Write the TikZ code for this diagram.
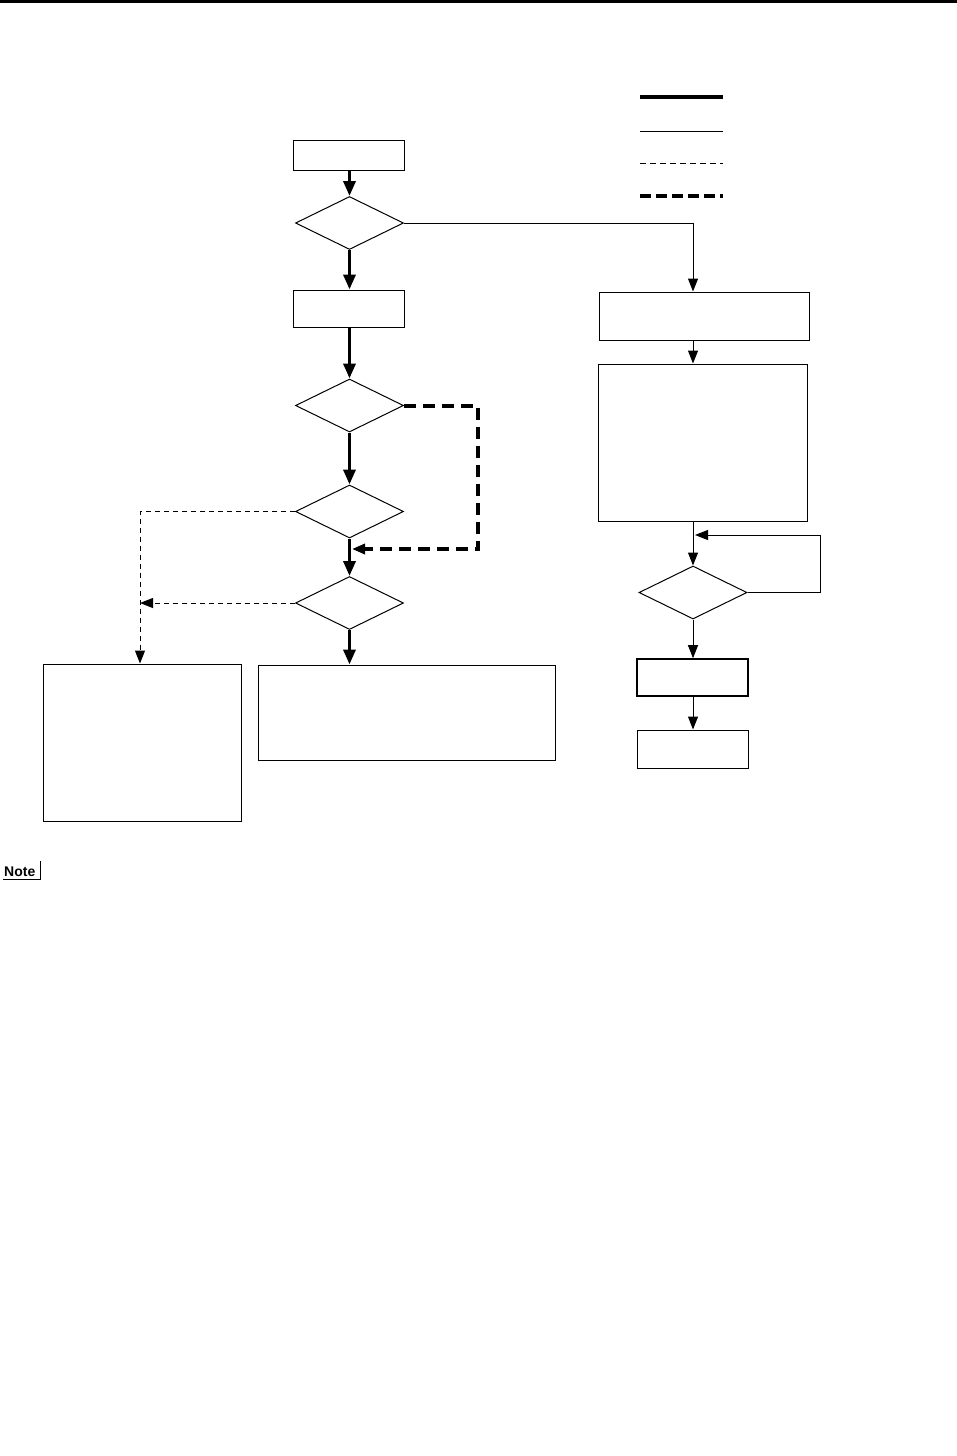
\documentclass[tikz,border=0pt]{standalone}
\usepackage{fontspec}
\setmainfont{Liberation Sans}
\usetikzlibrary{arrows.meta,shapes.geometric}

\tikzset{
  box/.style={draw, rectangle, line width=1pt, inner sep=0pt},
  decision/.style={draw, diamond, line width=1pt, inner sep=0pt,
    minimum width=108pt, minimum height=53pt},
  tip/.style={-{Triangle[length=13pt,width=10pt]}},
  mainflow/.style={line width=3.5pt, -{Triangle[length=15pt,width=12pt]}},
  sideflow/.style={line width=1pt, tip},
  skipflow/.style={line width=1pt, dash pattern=on 5pt off 4pt, tip},
  loopflow/.style={line width=4pt, dash pattern=on 12pt off 7pt, tip},
}

\begin{document}
\begin{tikzpicture}[x=1pt, y=-1pt]
    \useasboundingbox (0,0) rectangle (957,1456);
    \fill (0,0) rectangle (957,2.5);

    % legend
    \draw[line width=4pt] (640,97) -- (723,97);
    \draw[line width=1pt] (640,131) -- (723,131);
    \draw[line width=1pt, dash pattern=on 6pt off 4pt] (640,163) -- (723,163);
    \draw[line width=4pt, dash pattern=on 11pt off 5pt] (640,196) -- (723,196);

    % main column
    \node[box, minimum width=111pt, minimum height=30pt] (start) at (349,155) {};
    \node[decision] (d1) at (349.5,223) {};
    \node[box, minimum width=111pt, minimum height=37pt] (prep) at (349,308.5) {};
    \node[decision] (d2) at (349.5,405.5) {};
    \node[decision] (d3) at (349.5,511.5) {};
    \node[decision] (d4) at (349.5,603) {};
    \node[box, minimum width=198pt, minimum height=157pt] (fail) at (142,742.5) {};
    \node[box, minimum width=297pt, minimum height=95pt] (done) at (406.5,712.5) {};

    % right column
    \node[box, minimum width=210pt, minimum height=48pt] (r1) at (704,316) {};
    \node[box, minimum width=209pt, minimum height=157pt] (r2) at (702.5,442.5) {};
    \node[decision] (d5) at (693,592.5) {};
    \node[box, minimum width=111pt, minimum height=37pt, line width=1.6pt] (r3) at (692.5,677.5) {};
    \node[box, minimum width=111pt, minimum height=38pt] (r4) at (692.5,749) {};

    \coordinate (j1) at (352,549);
    \coordinate (j2) at (140,603);
    \coordinate (j3) at (695,535);

    \draw[mainflow] (start.south -| d1) -- (d1);
    \draw[mainflow] (d1) -- (prep.north -| d1);
    \draw[mainflow] (prep.south -| d2) -- (d2);
    \draw[mainflow] (d2) -- (d3);
    \draw[mainflow] (d3) -- (d4);
    \draw[mainflow] (d4) -- (d4 |- done.north);
    \draw[loopflow] (d2.east) -- (478,405.5) |- (j1);
    \draw[skipflow] (d3.west) -| (fail.north -| j2);
    \draw[skipflow] (d4.west) -- (j2);

    \draw[sideflow] (d1.east) -| (r1.north -| d5);
    \draw[sideflow] (r1.south -| d5) -- (r2.north -| d5);
    \draw[sideflow] (r2.south -| d5) -- (d5.north);
    \draw[sideflow] (d5.east) -- (820,592.5) |- (j3);
    \draw[sideflow] (d5.south) -- (r3.north -| d5);
    \draw[sideflow] (r3.south -| d5) -- (r4.north -| d5);

    % note mark
    \node[font=\bfseries\fontsize{14}{16}\selectfont, anchor=south west, inner sep=0pt] (note) at (4,876.5) {Note};
    \draw[line width=1pt] (3,879) -- (40.5,879) -- (40.5,861);
\end{tikzpicture}
\end{document}
